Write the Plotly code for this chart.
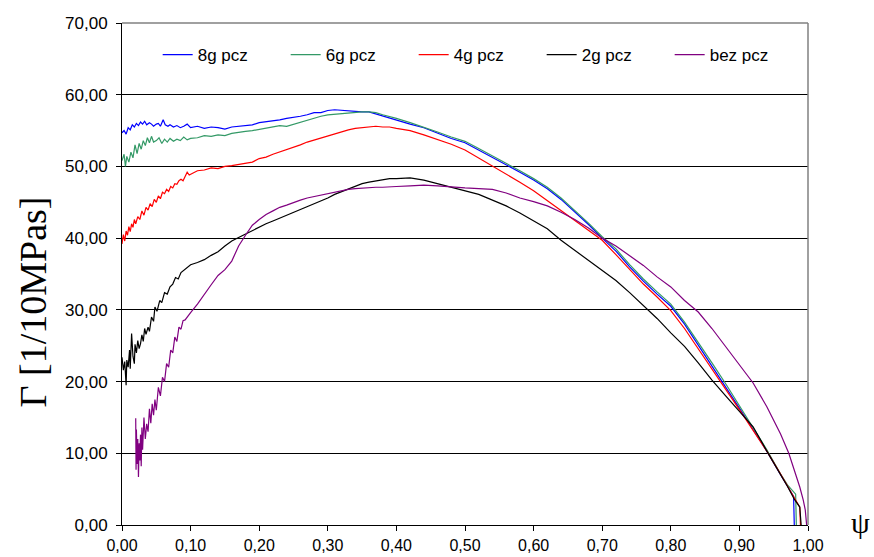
import plotly.graph_objects as go

# common grid for the smooth part (psi)
G = [0.10, 0.11, 0.12, 0.13, 0.14, 0.15, 0.16, 0.17, 0.18, 0.19,
     0.20, 0.21, 0.22, 0.23, 0.24, 0.25, 0.26, 0.27, 0.28, 0.29,
     0.30, 0.31, 0.32, 0.33, 0.34, 0.35, 0.36, 0.37, 0.38, 0.39,
     0.40, 0.42, 0.44, 0.46, 0.48, 0.50, 0.52, 0.54, 0.56, 0.58,
     0.60, 0.62, 0.64, 0.66, 0.68, 0.70, 0.72, 0.74, 0.76, 0.78,
     0.80, 0.82, 0.84, 0.86, 0.88, 0.90, 0.92, 0.94, 0.96]

# 8g pcz
x8_early = [0.000, 0.003, 0.006, 0.009, 0.012, 0.015, 0.018, 0.021, 0.024, 0.027,
            0.030, 0.033, 0.036, 0.040, 0.043, 0.046, 0.050, 0.053, 0.056, 0.060,
            0.063, 0.067, 0.070, 0.075, 0.080, 0.085, 0.090, 0.095]
y8_early = [54.7, 55.0, 54.5, 55.4, 55.1, 55.8, 55.5, 56.0, 55.7, 56.2,
            55.9, 56.3, 55.8, 56.1, 55.9, 55.6, 55.9, 56.0, 55.6, 56.5,
            55.8, 55.6, 55.8, 55.5, 55.7, 55.4, 55.6, 55.9]
y8_main = [55.4, 55.6, 55.3, 55.5, 55.4, 55.2, 55.5, 55.6, 55.8, 55.8,
           56.1, 56.2, 56.3, 56.5, 56.7, 56.8, 57.0, 57.2, 57.5, 57.5,
           57.8, 57.9, 57.8, 57.7, 57.7, 57.6, 57.6, 57.3, 57.0, 56.8,
           56.5, 55.9, 55.4, 54.6, 53.9, 53.3, 52.3, 51.3, 50.3, 49.2,
           48.1, 46.9, 45.4, 43.7, 41.9, 40.0, 38.2, 36.0, 34.0, 32.2,
           30.5, 28.0, 25.1, 22.2, 19.3, 16.3, 13.3, 10.3, 7.0]
x8_end = [0.970, 0.979, 0.980]
y8_end = [5.4, 4.0, 0.0]

# 6g pcz
x6_early = [0.000, 0.003, 0.005, 0.007, 0.010, 0.013, 0.016, 0.019, 0.022, 0.025,
            0.028, 0.031, 0.034, 0.037, 0.040, 0.043, 0.046, 0.050, 0.054, 0.058,
            0.062, 0.066, 0.070, 0.075, 0.080, 0.085, 0.090, 0.095]
y6_early = [50.8, 51.7, 50.0, 51.4, 50.6, 52.0, 51.2, 53.0, 51.8, 53.2,
            52.4, 53.6, 52.9, 54.0, 53.3, 54.2, 53.4, 53.6, 54.0, 53.2,
            53.8, 53.4, 53.9, 53.5, 53.8, 53.6, 54.1, 53.7]
y6_main = [53.9, 54.0, 54.3, 54.2, 54.4, 54.3, 54.6, 54.8, 54.9, 55.0,
           55.2, 55.4, 55.5, 55.7, 55.6, 55.9, 56.1, 56.5, 56.8, 57.0,
           57.2, 57.3, 57.4, 57.5, 57.6, 57.6, 57.6, 57.5, 57.2, 57.0,
           56.7, 56.1, 55.5, 54.8, 54.1, 53.5, 52.5, 51.5, 50.5, 49.4,
           48.3, 47.1, 45.6, 43.9, 42.1, 40.2, 38.5, 36.3, 34.3, 32.5,
           30.8, 28.3, 25.5, 22.6, 19.7, 16.6, 13.5, 10.5, 7.1]
x6_end = [0.970, 0.982, 0.983]
y6_end = [5.6, 4.3, 0.0]

# 4g pcz
x4_early = [0.000, 0.002, 0.004, 0.006, 0.008, 0.010, 0.012, 0.014, 0.016, 0.018,
            0.020, 0.023, 0.026, 0.029, 0.032, 0.035, 0.038, 0.041, 0.044, 0.047,
            0.050, 0.053, 0.056, 0.059, 0.062, 0.065, 0.068, 0.071, 0.074, 0.077,
            0.080, 0.083, 0.086, 0.089, 0.092, 0.095, 0.098]
y4_early = [39.2, 40.5, 39.6, 41.0, 40.4, 41.6, 40.9, 42.0, 41.5, 42.6,
            42.0, 43.0, 42.6, 43.8, 43.2, 44.3, 43.9, 44.8, 44.4, 45.4,
            45.0, 45.9, 45.5, 46.4, 46.2, 46.8, 46.5, 47.2, 47.0, 47.6,
            47.5, 48.0, 48.2, 48.0, 48.6, 49.2, 48.8]
y4_main = [48.9, 49.4, 49.5, 49.8, 49.7, 50.0, 50.1, 50.3, 50.4, 50.6,
           51.1, 51.3, 51.7, 52.0, 52.4, 52.6, 53.0, 53.4, 53.7, 54.0,
           54.3, 54.6, 54.9, 55.1, 55.3, 55.4, 55.5, 55.6, 55.5, 55.5,
           55.3, 55.0, 54.4, 53.8, 53.1, 52.3, 51.2, 50.1, 49.0, 47.8,
           46.6, 45.2, 43.8, 42.5, 41.1, 39.7, 37.7, 35.6, 33.6, 31.8,
           29.9, 27.4, 24.6, 21.8, 19.0, 16.1, 13.2, 10.3, 7.1]
x4_end = [0.970, 0.980, 0.988, 0.989]
y4_end = [5.4, 3.8, 2.5, 0.0]

# 2g pcz
x2_early = [0.000, 0.002, 0.004, 0.006, 0.007, 0.009, 0.011, 0.012, 0.014, 0.016,
            0.018, 0.019, 0.021, 0.023, 0.025, 0.027, 0.029, 0.031, 0.033, 0.035,
            0.038, 0.040, 0.043, 0.046, 0.048, 0.051, 0.055, 0.058, 0.062, 0.066,
            0.070, 0.074, 0.078, 0.082, 0.086, 0.090, 0.095]
y2_early = [23.4, 21.6, 22.8, 19.5, 23.0, 22.0, 24.4, 21.8, 26.7, 23.5,
            22.5, 25.2, 24.0, 25.7, 24.6, 25.3, 26.5, 25.6, 27.4, 26.6,
            27.6, 27.0, 29.0, 28.4, 30.4, 29.8, 31.3, 31.0, 32.4, 32.2,
            33.2, 33.6, 34.5, 34.3, 35.2, 35.5, 36.0]
y2_main = [36.3, 36.6, 37.0, 37.6, 38.1, 38.9, 39.6, 40.1, 40.6, 41.1,
           41.6, 42.0, 42.4, 42.8, 43.2, 43.6, 44.0, 44.4, 44.7, 45.2,
           45.6, 46.1, 46.5, 46.9, 47.3, 47.6, 47.8, 48.0, 48.1, 48.3,
           48.3, 48.4, 48.1, 47.6, 47.2, 46.6, 46.1, 45.3, 44.5, 43.5,
           42.4, 41.3, 39.7, 38.3, 37.0, 35.6, 34.1, 32.4, 30.6, 28.8,
           26.8, 24.9, 22.6, 20.2, 18.0, 15.8, 13.7, 10.3, 7.1]
x2_end = [0.970, 0.980, 0.988, 0.990]
y2_end = [5.4, 3.6, 2.5, 0.0]

# bez pcz
x0_early = [0.020, 0.0205, 0.021, 0.022, 0.023, 0.024, 0.025, 0.026, 0.027, 0.028,
            0.029, 0.030, 0.032, 0.034, 0.036, 0.038, 0.040, 0.042, 0.044, 0.046,
            0.048, 0.050, 0.053, 0.056, 0.059, 0.062, 0.065, 0.068, 0.071, 0.074,
            0.077, 0.080, 0.083, 0.086, 0.089, 0.092, 0.095, 0.098]
y0_early = [14.9, 7.7, 13.3, 8.5, 12.0, 6.7, 11.4, 9.0, 12.6, 8.2,
            13.6, 10.5, 15.0, 12.0, 14.1, 13.0, 16.2, 14.2, 16.9, 15.3,
            17.5, 16.0, 19.2, 18.0, 20.6, 20.0, 22.5, 22.0, 24.4, 24.0,
            26.2, 25.6, 27.6, 27.3, 28.5, 28.6, 29.0, 29.4]
y0_main = [29.6, 30.8, 32.2, 33.5, 34.8, 35.6, 36.8, 38.9, 40.4, 41.8,
           42.6, 43.3, 43.8, 44.3, 44.6, 45.0, 45.3, 45.6, 45.8, 46.1,
           46.3, 46.5, 46.6, 46.8, 46.9, 47.0, 47.0, 47.1, 47.1, 47.2,
           47.2, 47.3, 47.4, 47.3, 47.1, 47.0, 46.9, 46.8, 46.3, 45.6,
           45.1, 44.5, 43.6, 42.6, 41.4, 40.0, 38.9, 37.6, 36.2, 34.6,
           33.2, 31.3, 29.7, 27.4, 24.9, 22.4, 19.8, 16.5, 12.7]
x0_end = [0.972, 0.980, 0.988, 0.993, 0.996, 0.998]
y0_end = [10.0, 7.8, 5.3, 3.5, 2.1, 0.0]

series = [
    ("8g pcz", "#0000FF", x8_early + G + x8_end, y8_early + y8_main + y8_end),
    ("6g pcz", "#339966", x6_early + G + x6_end, y6_early + y6_main + y6_end),
    ("4g pcz", "#FF0000", x4_early + G + x4_end, y4_early + y4_main + y4_end),
    ("2g pcz", "#000000", x2_early + G + x2_end, y2_early + y2_main + y2_end),
    ("bez pcz", "#800080", x0_early + G + x0_end, y0_early + y0_main + y0_end),
]

fig = go.Figure()
for name, color, xs, ys in series:
    fig.add_trace(go.Scatter(x=xs, y=ys, mode="lines", name=name,
                             line=dict(color=color, width=1.2)))

tick_font = dict(family="Liberation Sans, Arial, sans-serif", size=17, color="#000000")

fig.update_layout(
    width=874, height=557,
    margin=dict(l=122, r=66, t=23, b=32, autoexpand=False),
    paper_bgcolor="white", plot_bgcolor="white",
    separators=", ",
    showlegend=True,
    legend=dict(orientation="h", x=0.052, y=0.936, xanchor="left", yanchor="middle",
                font=dict(family="Liberation Sans, Arial, sans-serif", size=17, color="#000000"),
                bgcolor="rgba(0,0,0,0)", entrywidth=83, entrywidthmode="pixels",
                tracegroupgap=0),
    xaxis=dict(range=[0, 1.0], dtick=0.1, tick0=0, tickformat=".2f",
               showgrid=False, zeroline=False, showline=True, linecolor="#000000",
               linewidth=1, ticks="outside", ticklen=5, tickcolor="#000000",
               tickfont=dict(family="Liberation Sans, Arial, sans-serif", size=16,
                             color="#000000"),
               automargin=False, ticklabelstandoff=1),
    yaxis=dict(range=[0, 70], dtick=10, tick0=0, tickformat=".2f",
               showgrid=True, gridcolor="#000000", gridwidth=1, zeroline=False,
               showline=True, linecolor="#000000", linewidth=1, ticks="outside",
               ticklen=5, tickcolor="#000000", tickfont=tick_font,
               automargin=False, ticklabelstandoff=5),
    shapes=[
        dict(type="line", xref="paper", yref="paper", x0=0, x1=1, y0=1, y1=1,
             line=dict(color="#808080", width=1.5), layer="above"),
        dict(type="line", xref="paper", yref="paper", x0=1, x1=1, y0=0, y1=1,
             line=dict(color="#808080", width=1.5), layer="above"),
    ],
    annotations=[
        dict(text="Γ [1/10MPas]", xref="paper", yref="paper", x=-0.13, y=0.445,
             xanchor="center", yanchor="middle", textangle=-90, showarrow=False,
             font=dict(family="Liberation Serif, Times New Roman, serif", size=38,
                       color="#000000")),
        dict(text="ψ", xref="paper", yref="paper", x=1.076, y=0.005,
             xanchor="center", yanchor="middle", showarrow=False,
             font=dict(family="Liberation Serif, Times New Roman, serif", size=30,
                       color="#000000")),
    ],
)

fig.write_html("out.html")
